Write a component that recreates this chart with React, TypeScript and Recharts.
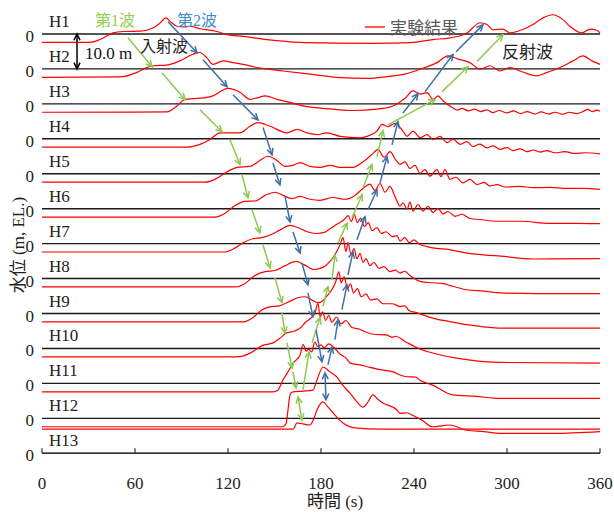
import { LineChart, Line, XAxis, YAxis, ReferenceLine } from 'recharts';

// 水位 (m) relative to each gauge's own 0 line, [time (s), level]
const stations = ['H1', 'H2', 'H3', 'H4', 'H5', 'H6', 'H7', 'H8', 'H9', 'H10', 'H11', 'H12', 'H13'];
const timeTicks = [0, 60, 120, 180, 240, 300, 360];
const gaugeGap = 10; // m between stacked gauges

const h1 = [[0,-2.4],[31,-2.4],[37.4,-1.6],[45.8,0.3],[52.3,0.7],[63.2,0.8],[71.6,1.7],[76.1,3.1],[80,4.6],[82.6,3.6],[87.1,2.2],[91,2.0],[95.5,2.2],[101.9,1.5],[112.9,0.7],[119.4,-0.2],[129.7,-0.7],[145.2,-1.6],[166.5,-2.4],[187.7,-2.6],[215,-2.7],[237.4,-2.5],[252.3,-1.6],[263.2,-1.1],[274.2,0.3],[282.6,3.2],[287.1,2.7],[291,1.2],[297.4,1.4],[301.9,0.3],[306.5,0.7],[316.8,2.7],[323.2,4.6],[329.7,5.5],[336.1,4.1],[340.6,2.2],[348.4,0.3],[353.5,1.4],[358.1,1.0],[360,0.3]];
const h2 = [[0,-2.4],[50.3,-2.3],[61.3,-1.0],[67.7,0.4],[71.6,0.9],[80.6,1.1],[89,2.3],[97.4,4.2],[101.9,4.7],[106.5,3.1],[110.3,1.3],[116.8,2.3],[123.2,1.8],[129.7,1.3],[138.7,0.4],[155.5,-0.6],[172.9,-1.5],[192.3,-2.5],[209.7,-2.7],[222.6,-2.2],[234.2,-1.5],[243.9,-0.1],[254.8,1.8],[261.9,3.7],[268.4,2.8],[276.1,1.8],[282.6,-0.1],[289,0.9],[295.5,-0.6],[301.9,0.4],[308.4,-0.6],[319.4,-2.0],[325.8,-1.0],[334.2,0.4],[342.6,2.3],[349,3.7],[354.8,2.3],[360,1.3]];
const h3 = [[0,-2.4],[80.6,-2.3],[87.1,-0.6],[92.3,1.3],[97.4,1.5],[105.2,1.8],[110.3,2.3],[120,4.4],[127.7,3.3],[134.2,1.3],[139.4,1.8],[143.9,2.3],[151.6,1.3],[160,0.4],[168.4,-0.6],[187.7,-1.5],[200.6,-1.9],[216.1,-1.5],[226.5,-0.6],[234.2,1.6],[239.4,3.7],[243.9,2.8],[248.4,3.2],[252.3,1.3],[255.5,2.3],[258.7,0.9],[265.2,-1.2],[268,-1.8],[271,-1.3],[275,-2.0],[279,-1.5],[283,-2.2],[287,-1.7],[291,-2.5],[295,-1.9],[300,-2.6],[304,-2.0],[309,-2.8],[313,-2.2],[318,-2.9],[322,-2.3],[327,-2.9],[331,-2.4],[336,-3.0],[340,-2.4],[345,-2.8],[349,-2.2],[352,-1.6],[355,-2.2],[358,-1.8],[360,-2.1]];
const h4 = [[0,-2.4],[93.5,-2.4],[101.9,-1.6],[108.4,-0.2],[114.8,1.7],[121.3,1.7],[127.7,1.7],[134.2,3.6],[139.4,4.6],[147.1,3.6],[158.1,1.7],[164.5,2.7],[171,1.7],[177.4,1.2],[183.9,1.7],[192.3,0.7],[205.2,0.3],[209.7,0.7],[216.1,2.2],[219.4,4.1],[223.2,3.5],[227.7,4.4],[232.9,2.2],[235.5,0.7],[239.4,2.2],[243.9,0.3],[248.4,1.2],[252.3,-0.2],[256.8,0.7],[261.3,-1.1],[265.2,-0.1],[269.7,-1.6],[274.2,-0.8],[278.1,-2.2],[282.6,-1.5],[287.1,-2.6],[291,-2.0],[295.5,-3.0],[300,-2.5],[303.9,-3.4],[308.4,-2.9],[312.9,-3.7],[316.8,-3.2],[321.3,-3.8],[325.8,-3.4],[331,-4.0],[337.4,-3.7],[343.9,-4.2],[350.3,-4.0],[360,-4.3]];
const h5 = [[0,-2.4],[105,-2.4],[111.6,-1.6],[120,0.7],[125.8,1.8],[134.2,2.1],[140.6,3.8],[145.8,5.0],[151.6,3.8],[156.8,2.1],[161.9,2.4],[166.5,3.2],[172.9,2.1],[179.4,1.8],[185.8,2.4],[192.3,1.8],[200,1.8],[206.5,3.2],[212.9,5.5],[216.8,7.0],[220.6,4.7],[224.5,6.3],[228.4,3.8],[231,2.7],[234.2,3.4],[237.4,1.5],[240.6,2.4],[243.9,0.1],[247.1,1.2],[250.3,-0.7],[254.8,1.2],[257.4,-0.8],[260,1.2],[263.2,-1.6],[267.1,-1.0],[271.6,-2.6],[276.1,-1.6],[280.6,-3.1],[285.2,-2.5],[289,-3.5],[293.5,-3.1],[298.7,-3.8],[308.4,-3.6],[316.8,-4.0],[327.7,-3.9],[338.7,-4.2],[349,-4.2],[360,-4.5]];
const h6 = [[0,-2.4],[111.6,-2.4],[118.1,-1.3],[124.5,0.9],[131,2.1],[137.4,2.2],[143.9,3.8],[150.3,4.7],[155.5,3.8],[161.3,2.9],[166.5,3.5],[172.9,2.7],[179.4,2.4],[187.7,3.2],[195.5,2.7],[201.9,3.8],[207.1,5.8],[211.6,7.0],[214.8,5.2],[218.1,7.2],[221.3,4.7],[224.5,6.4],[227.7,3.5],[231,0.7],[232.9,1.7],[235.5,-0.2],[237.4,1.9],[239.4,-0.7],[242.6,1.2],[245.8,-0.7],[249,0.7],[252.3,-1.1],[255.5,0.1],[258.7,-1.5],[261.9,-0.8],[266.5,-2.2],[271,-1.6],[276.1,-2.8],[282.6,-3.1],[293.5,-3.6],[308.4,-3.6],[327.7,-4.2],[343.9,-4.2],[360,-4.3]];
const h7 = [[0,-2.4],[118,-2.4],[124,-1.4],[130,0.3],[136,1.4],[142,1.7],[148,2.6],[154,4.0],[160,5.2],[165,4.6],[171,3.4],[177,2.9],[182,3.2],[186,4.3],[189,5.2],[192,6.0],[195,6.9],[197.5,8.0],[199.5,6.3],[201.5,8.3],[203.5,6.0],[205.5,7.2],[208,4.9],[210.5,6.0],[213,3.7],[216,4.6],[219,2.9],[222,3.4],[226,2.0],[229,2.3],[231,0.7],[234,1.7],[237,0.3],[240,1.1],[243,0],[248,-0.8],[252,-1.2],[263,-1.7],[274,-2.7],[285,-3.2],[296,-3.6],[317,-4.4],[360,-4.3]];
const h8 = [[0,-2.4],[125,-2.4],[131,-1.4],[137.4,0.9],[143.9,2.0],[150.3,2.3],[156.8,3.7],[163.9,4.9],[169,4.0],[175.5,2.6],[181.3,3.2],[185.8,4.9],[189,6.9],[192.3,9.7],[194.2,11.7],[196.1,7.7],[197.4,10.3],[199.4,6.9],[201.3,8.6],[203.2,5.7],[205.2,7.2],[207.1,4.6],[209,5.7],[211.6,3.7],[214.2,4.6],[217.4,2.9],[220.6,3.4],[224.5,2.0],[228,2.4],[231,1.6],[234,2.1],[237,1.0],[243.9,-0.8],[252,-1.2],[258,-1.4],[265,-2.2],[274,-3.2],[285,-3.6],[295.5,-4.1],[320,-4.3],[360,-4.3]];
const h9 = [[0,-2.4],[130,-2.4],[136,-1.2],[142,1.1],[147,1.9],[153,2.2],[159,3.3],[165,4.5],[170,4.8],[174,3.9],[178,3.1],[181,3.6],[184,5.1],[187,6.8],[189.5,9.1],[191.5,11.9],[193,8.8],[195,10.5],[197,7.1],[199,8.5],[201,5.9],[203.5,7.1],[206,4.8],[209,5.6],[212,3.9],[216,4.2],[220,2.8],[226,2.8],[231,2.0],[234,2.2],[237,0.8],[242,0.2],[252,-1.3],[263,-2.3],[274,-3.2],[285,-3.8],[296,-4.2],[360,-4.2]];
const h10 = [[0,-2.4],[125,-2.4],[130,-2.1],[136,-0.9],[142,0.8],[149,1.6],[154,3.1],[158,4.5],[163,5.0],[167,6.0],[170,7.5],[173,8.5],[176,10.0],[178,12.9],[179.5,9.0],[181,10.5],[183,8.0],[185,9.5],[187,7.5],[190,9.0],[193,7.0],[196,8.0],[200,6.0],[205,5.5],[210,4.5],[215,4.0],[222,3.9],[226,3.2],[228,3.5],[235,1.8],[243,0.0],[252,-1.3],[274,-3.2],[295,-4.0],[360,-4.2]];
const h11 = [[0,-2.4],[149,-2.4],[152,-2.0],[155.5,1.0],[159,3.5],[162,5.8],[166.5,8.1],[168.4,11.2],[170.5,9.2],[172,9.8],[174,9.0],[176,11.8],[178,10.5],[180,11.0],[182,10.2],[185,11.3],[188,10.4],[192,8.5],[196,7.3],[199,5.8],[205,5.3],[211.6,4.6],[220,3.8],[226.5,3.3],[231,2.4],[235.5,1.9],[241,1.8],[243.9,0.9],[252,-0.5],[265,-3.3],[280,-3.7],[295,-4.3],[360,-4.3]];
const h12 = [[0,-2.4],[155.5,-2.4],[157.5,-1.5],[158.7,2.4],[160,6.7],[161.3,7.5],[168,7.8],[174.8,8.1],[177.4,11.0],[181.3,14.7],[185.8,13.3],[190.3,11.8],[194,9.5],[198.7,7.2],[203.2,4.7],[207.1,3.2],[210,4.5],[213.5,6.7],[217,5.3],[220,4.4],[229,2.4],[231,1.4],[235.5,1.6],[239.4,0.8],[245,-0.5],[252,-2.4],[263,-1.9],[274,-3.4],[285,-3.8],[296,-4.3],[330,-4.3],[360,-3.8]];
const h13 = [[0,6.9],[162,6.9],[164.5,8.7],[168.4,8.4],[172.9,8.1],[175,9.5],[177.4,12.4],[181.3,14.7],[184,13.5],[187.7,11.6],[194.2,8.7],[203.2,7.2],[218,6.9],[360,6.9]];

const gauges = [h1, h2, h3, h4, h5, h6, h7, h8, h9, h10, h11, h12, h13];

// arrows in chart units [t1, y1, t2, y2] (y = stacked level)
const wave1In = [[55.5,118.9,71.0,110.6],[77.4,108.9,92.3,101.2],[101.9,98.3,116.1,92.0],[121.3,89.7,127.7,82.6],[129.0,79.7,132.9,73.1],[135.5,69.7,140.6,63.1],[142.6,59.6,147.1,53.1],[150.3,50.2,154.8,43.1],[154.8,40.2,156.8,34.4],[158.1,31.6,161.3,24.4],[161.9,23.3,163.9,18.7]];
const wave1Out = [[168.4,18.2,172.3,29.0],[174.2,31.6,179.4,38.8],[181.3,42.0,184.5,47.7],[187.1,49.6,189.0,56.7],[191.0,60.2,196.8,65.9],[200.0,67.4,206.5,74.0],[207.1,76.0,212.9,82.6],[216.1,84.9,220.0,92.3],[223.2,94.0,253.5,101.2],[258.1,103.5,274.8,110.6],[280.6,112.1,297.4,119.8]];
const wave1Link = [[165.2,16.1,167.7,9.5]];
const wave2In = [[81.3,123.5,100.0,114.6],[103.9,112.6,119.4,104.9],[123.2,102.6,139.4,95.4],[142.6,93.2,148.4,85.4],[149.0,83.1,153.5,76.8],[156.8,73.5,160.0,66.2],[161.9,63.4,166.5,57.3],[167.7,54.5,171.6,48.2],[171.6,45.9,174.8,39.1],[176.8,35.3,180.6,26.2]];
const wave2Out = [[184.5,25.3,187.1,30.4],[189.0,32.5,191.0,38.2],[193.5,41.1,196.8,48.2],[197.4,51.1,200.6,57.6],[203.2,61.1,208.4,67.7],[210.3,69.7,216.1,75.4],[218.1,77.4,222.6,84.9],[225.8,88.3,229.7,94.9],[232.9,97.4,242.6,102.9],[247.1,103.5,265.2,114.1],[267.1,114.9,284.5,122.6]];
const wave2Link = [[182.6,23.0,183.2,15.3]];
const scaleBar = [[22.6,110,22.6,120]];

const GREEN = '#8DC94F';
const BLUE = '#3E6EA6';
const SERIF = "Liberation Serif, Times New Roman, Times, serif";
const JP = "Liberation Serif, Times New Roman, Noto Sans CJK JP, sans-serif";

const gaugeData = gauges.map((pts, i) =>
  pts.map(([t, v]) => ({ t, v: v + (stations.length - 1 - i) * gaugeGap }))
);
const baseLevels = stations.map((_, i) => (stations.length - 1 - i) * gaugeGap);

function head(x: number, y: number, fx: number, fy: number, color: string) {
  const a = Math.atan2(y - fy, x - fx);
  const len = 7;
  const s = 0.45;
  const p1 = `${x - len * Math.cos(a - s)},${y - len * Math.sin(a - s)}`;
  const p2 = `${x - len * Math.cos(a + s)},${y - len * Math.sin(a + s)}`;
  return <polyline points={`${p1} ${x},${y} ${p2}`} fill="none" stroke={color} strokeWidth={1.5} />;
}

const arrowShape = (color: string, both: boolean) => (p: any) => {
  const x1 = Number(p.x1), y1 = Number(p.y1), x2 = Number(p.x2), y2 = Number(p.y2);
  return (
    <g>
      <line x1={x1} y1={y1} x2={x2} y2={y2} stroke={color} strokeWidth={1.5} />
      {head(x2, y2, x1, y1, color)}
      {both && head(x1, y1, x2, y2, color)}
    </g>
  );
};

const TimeTick = (props: any) => {
  const { x, y, payload } = props;
  return (
    <g>
      <line x1={x} x2={x} y1={y} y2={y - 5} stroke="#333" strokeWidth={1.2} />
      <text x={x} y={y + 36} textAnchor="middle" fontSize={17} style={{ fontFamily: SERIF }} fill="#222">
        {payload.value}
      </text>
    </g>
  );
};

function arrows(list: number[][], color: string, both: boolean, prefix: string) {
  return list.map((a, i) => (
    <ReferenceLine
      key={prefix + i}
      segment={[{ x: a[0], y: a[1] }, { x: a[2], y: a[3] }]}
      ifOverflow="visible"
      shape={arrowShape(color, both)}
    />
  ));
}

export default function App() {
  return (
    <div style={{ position: 'absolute', left: 0, top: 0, width: 614, height: 512, background: '#fff', fontFamily: SERIF }}>
      <LineChart width={614} height={512} margin={{ top: 6, right: 14, bottom: 0, left: 0 }} style={{ fontFamily: SERIF }}>
        <XAxis
          type="number"
          dataKey="t"
          domain={[0, 360]}
          ticks={timeTicks}
          height={58.7}
          axisLine={{ stroke: '#333', strokeWidth: 1.3 }}
          tickLine={false}
          tickSize={0}
          tickMargin={0}
          tick={<TimeTick />}
        />
        <YAxis
          type="number"
          domain={[0, 128]}
          ticks={baseLevels}
          tickFormatter={() => '0'}
          width={42}
          axisLine={false}
          tickLine={false}
          tick={{ fontSize: 17, fill: '#222', fontFamily: SERIF, dy: 2 }}
        />
        {baseLevels.map((b, i) => (
          <ReferenceLine
            key={'base' + i}
            y={b}
            stroke="#1a1a1a"
            strokeWidth={1.4}
            label={{ value: stations[i], position: 'insideBottomLeft', offset: 7, fontSize: 17, fill: '#222', fontFamily: SERIF }}
          />
        ))}
        {gaugeData.map((d, i) => (
          <Line
            key={stations[i]}
            data={d}
            dataKey="v"
            type="monotone"
            stroke="#ff0000"
            strokeWidth={1.2}
            dot={false}
            isAnimationActive={false}
          />
        ))}
        {arrows(wave1In, GREEN, false, 'g1')}
        {arrows(wave1Out, GREEN, false, 'g2')}
        {arrows(wave1Link, GREEN, true, 'g3')}
        {arrows(wave2In, BLUE, false, 'b1')}
        {arrows(wave2Out, BLUE, false, 'b2')}
        {arrows(wave2Link, BLUE, true, 'b3')}
        {arrows(scaleBar, '#000', true, 'k')}
      </LineChart>
      <svg width={614} height={512} style={{ position: 'absolute', left: 0, top: 0, pointerEvents: 'none' }}>
        <text x={95} y={25.5} fontSize={16} style={{ fontFamily: JP }} fill="#92D050">第1波</text>
        <text x={177} y={25.5} fontSize={16} style={{ fontFamily: JP }} fill="#3B8ED3">第2波</text>
        <text x={140} y={51.5} fontSize={16} style={{ fontFamily: JP }} fill="#262626">入射波</text>
        <text x={502} y={58} fontSize={17} style={{ fontFamily: JP }} fill="#262626">反射波</text>
        <text x={85} y={59} fontSize={17} style={{ fontFamily: SERIF }} fill="#111">10.0 m</text>
        <line x1={365} x2={385} y1={27} y2={27} stroke="#ff0000" strokeWidth={1.3} />
        <text x={390} y={33.5} fontSize={17} style={{ fontFamily: JP }} fill="#595959">実験結果</text>
        <text x={335} y={507} fontSize={17} style={{ fontFamily: JP }} fill="#222" textAnchor="middle">時間 (s)</text>
        <text
          x={18}
          y={245}
          fontSize={17}
          style={{ fontFamily: JP }}
          fill="#222"
          textAnchor="middle"
          dominantBaseline="central"
          transform="rotate(-90 18 245)"
        >
          水位 (m, EL.)
        </text>
      </svg>
    </div>
  );
}
